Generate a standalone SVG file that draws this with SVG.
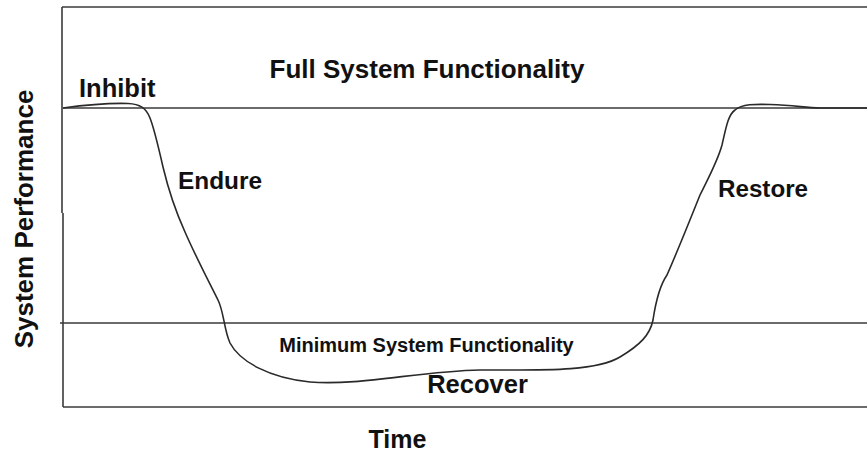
<svg xmlns="http://www.w3.org/2000/svg" width="867" height="452" viewBox="0 0 867 452">
<style>
.ln{stroke:#3a3a3a;stroke-width:1.6;fill:none}
.cv{stroke:#2a2a2a;stroke-width:1.6;fill:none;stroke-linejoin:round}
text{font-family:"Liberation Sans",Arial,sans-serif;font-weight:bold;fill:#111}
</style>
<rect width="867" height="452" fill="#fff"/>
<g id="axes">
<line class="ln" x1="62" y1="7" x2="867" y2="7"/>
<line class="ln" x1="62" y1="7" x2="62" y2="213"/>
<line class="ln" x1="63" y1="213" x2="63" y2="407"/>
<line class="ln" x1="63" y1="407" x2="867" y2="407"/>
<line class="ln" x1="63" y1="108" x2="867" y2="108"/>
<line class="ln" x1="60" y1="323" x2="867" y2="323"/>
</g>
<g id="curve">
<path class="cv" d="M63,108 C85,105 110,103 128,103.5 C140,104 146,108 150,118 C154,128 158,145 163,167 C168,188 175,210 185,232 C195,255 208,280 218,300 C224,312 224,330 230,343 C240,362 270,378 310,382 C360,386 420,371 480,370 C540,370 595,372 620,357 C640,345 650,335 653,320 C656,300 660,285 667,275 C678,250 690,220 700,195 C710,175 718,160 722,145 C726,128 728,115 735,110 C742,104 755,104 770,104.5 C795,105 805,108 820,108 L867,108"/>
</g>
<g id="labels">
<text x="427" y="78" font-size="26" text-anchor="middle">Full System Functionality</text>
<text x="79" y="97" font-size="25.5">Inhibit</text>
<text x="178" y="189" font-size="24.4">Endure</text>
<text x="718" y="197" font-size="24.2">Restore</text>
<text x="426.5" y="352" font-size="20" text-anchor="middle">Minimum System Functionality</text>
<text x="477.5" y="393" font-size="25.5" text-anchor="middle">Recover</text>
<text x="397.5" y="448" font-size="25" text-anchor="middle">Time</text>
<text transform="translate(33,219) rotate(-90)" font-size="26" text-anchor="middle">System Performance</text>
</g>
</svg>
